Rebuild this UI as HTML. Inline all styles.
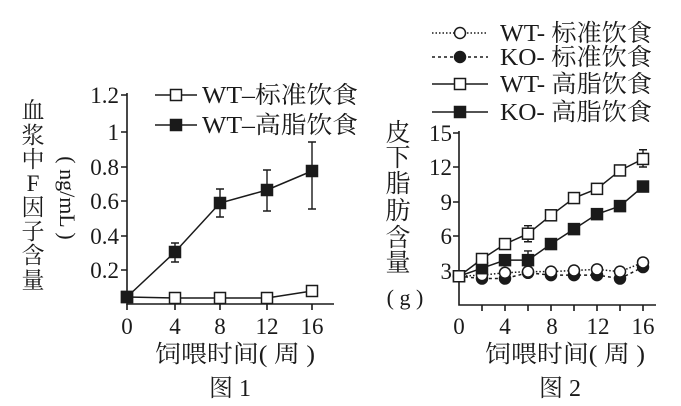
<!DOCTYPE html>
<html><head><meta charset="utf-8"><style>
body{margin:0;background:#fff}
svg{display:block}
text{font-family:"Liberation Serif","Noto Serif CJK SC",serif;fill:#1a1a1a}
.c{font-family:"Liberation Serif","Noto Sans CJK SC",sans-serif}
</style></head><body>
<svg id="s" width="681" height="406" viewBox="0 0 681 406" xmlns="http://www.w3.org/2000/svg">
<g stroke="#1a1a1a" stroke-width="1.6" fill="none">
<path d="M127 93 V304 H334"/>
<path d="M121 95H127M121 132H127M121 167H127M121 201H127M121 236H127M121 270H127"/>
<path d="M127 304v6M175 304v6M220 304v6M267 304v6M312 304v6"/>
<path d="M459 131 V305 H656"/>
<path d="M453 133H459M453 167H459M453 202H459M453 236H459M453 271H459"/>
</g>
<g font-size="23">
<text x="119" y="103" text-anchor="end">1.2</text>
<text x="119" y="140" text-anchor="end">1</text>
<text x="119" y="175" text-anchor="end">0.8</text>
<text x="119" y="209" text-anchor="end">0.6</text>
<text x="119" y="244" text-anchor="end">0.4</text>
<text x="119" y="278" text-anchor="end">0.2</text>
<text x="127" y="334" text-anchor="middle">0</text>
<text x="175" y="334" text-anchor="middle">4</text>
<text x="220" y="334" text-anchor="middle">8</text>
<text x="267" y="334" text-anchor="middle">12</text>
<text x="312" y="334" text-anchor="middle">16</text>
<text x="452" y="141" text-anchor="end">15</text>
<text x="452" y="175" text-anchor="end">12</text>
<text x="452" y="210" text-anchor="end">9</text>
<text x="452" y="244" text-anchor="end">6</text>
<text x="452" y="279" text-anchor="end">3</text>
<text x="459" y="334" text-anchor="middle">0</text>
<text x="505" y="334" text-anchor="middle">4</text>
<text x="552" y="334" text-anchor="middle">8</text>
<text x="598" y="334" text-anchor="middle">12</text>
<text x="643" y="334" text-anchor="middle">16</text>
</g>
<g font-size="24" class="c">
<text x="202" y="103" textLength="156" lengthAdjust="spacingAndGlyphs">WT–标准饮食</text>
<text x="202" y="133" textLength="156" lengthAdjust="spacingAndGlyphs">WT–高脂饮食</text>
<text x="500" y="41" textLength="152" lengthAdjust="spacingAndGlyphs">WT- 标准饮食</text>
<text x="500" y="65" textLength="152" lengthAdjust="spacingAndGlyphs">KO- 标准饮食</text>
<text x="500" y="92" textLength="152" lengthAdjust="spacingAndGlyphs">WT- 高脂饮食</text>
<text x="500" y="120" textLength="152" lengthAdjust="spacingAndGlyphs">KO- 高脂饮食</text>
<text x="155" y="362" textLength="160" lengthAdjust="spacingAndGlyphs">饲喂时间( 周 )</text>
<text x="230" y="396" text-anchor="middle">图 1</text>
<text x="485" y="362" textLength="160" lengthAdjust="spacingAndGlyphs">饲喂时间( 周 )</text>
<text x="560" y="396" text-anchor="middle">图 2</text>
</g>
<g font-size="23" class="c" text-anchor="middle">
<text x="33" y="118">血</text><text x="33" y="143">浆</text><text x="33" y="167">中</text>
<text x="33" y="191">F</text><text x="33" y="215">因</text><text x="33" y="239">子</text>
<text x="33" y="263">含</text><text x="33" y="288">量</text>
<text transform="translate(60,198) rotate(90)" font-size="22">( ng/mL )</text>
<text x="398" y="141" font-size="25">皮</text><text x="398" y="166" font-size="25">下</text><text x="398" y="192" font-size="25">脂</text>
<text x="398" y="219" font-size="25">肪</text><text x="398" y="246" font-size="25">含</text><text x="398" y="271" font-size="25">量</text>
<text x="405" y="305" font-size="22">( g )</text>
</g>
<g id="d"></g>
</svg>
<script>
var g=document.getElementById('d'),h='';
function L(pts,dash){h+='<polyline points="'+pts.map(p=>p.join(',')).join(' ')+'" fill="none" stroke="#1a1a1a" stroke-width="1.5"'+(dash?' stroke-dasharray="'+dash+'"':'')+'/>';}
function sq(x,y,f){h+='<rect x="'+(x-5.5)+'" y="'+(y-5.5)+'" width="11" height="11" fill="'+(f?'#1a1a1a':'#fff')+'" stroke="#1a1a1a" stroke-width="1.5"/>';}
function ci(x,y,f){h+='<circle cx="'+x+'" cy="'+y+'" r="5.5" fill="'+(f?'#1a1a1a':'#fff')+'" stroke="#1a1a1a" stroke-width="1.5"/>';}
function eb(x,a,b){h+='<path d="M'+x+' '+a+'V'+b+'M'+(x-4)+' '+a+'h8M'+(x-4)+' '+b+'h8" stroke="#1a1a1a" stroke-width="1.4" fill="none"/>';}
var X1=[127,175,220,267,312];
var hf=[297,252,203,190,171],sd=[297,298,298,298,291];
eb(175,243,262);eb(220,189,217);eb(267,170,211);eb(312,142,209);
L(X1.map((x,i)=>[x,sd[i]]));L(X1.map((x,i)=>[x,hf[i]]));
X1.forEach((x,i)=>sq(x,sd[i],0));X1.forEach((x,i)=>sq(x,hf[i],1));
L([[155,95],[197,95]]);sq(176,95,0);L([[155,125],[197,125]]);sq(176,125,1);
var px=w=>459+w*11.5,py=v=>305-v*11.5;
var wh=[2.5,4,5.3,6.2,7.8,9.3,10.1,11.7,12.7],kh=[2.5,3.2,3.9,3.9,5.3,6.6,7.9,8.6,10.3],
ws=[2.5,2.6,2.8,2.9,2.9,3.0,3.1,2.9,3.7],ks=[2.5,2.3,2.3,2.8,2.6,2.6,2.6,2.3,3.3];
var P=a=>a.map((v,i)=>[px(i*2),py(v)]);
for(var k=2;k<=16;k+=2)h+='<path d="M'+px(k)+' 305v6" stroke="#1a1a1a" stroke-width="1.6"/>';
eb(px(6),py(6.9),py(5.5));eb(px(6),py(4.7),py(3.9));eb(px(16),py(13.5),py(12));
L(P(ks),'3,3');L(P(ws),'1.5,2');L(P(kh));L(P(wh));
P(ks).forEach(p=>ci(p[0],p[1],1));P(ws).forEach(p=>ci(p[0],p[1],0));
P(kh).forEach(p=>sq(p[0],p[1],1));P(wh).forEach(p=>sq(p[0],p[1],0));
L([[432,33],[488,33]],'1.5,2');ci(460,33,0);
L([[432,57],[488,57]],'3,3');ci(460,57,1);
L([[432,84],[488,84]]);sq(460,84,0);
L([[432,112],[488,112]]);sq(460,112,1);
g.innerHTML=h;
</script>
</body></html>
